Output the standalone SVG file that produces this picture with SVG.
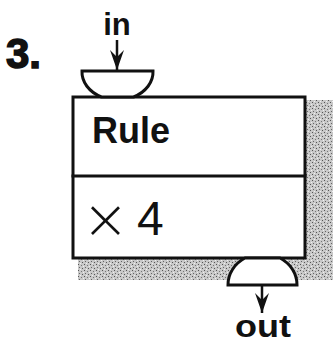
<svg xmlns="http://www.w3.org/2000/svg" width="335" height="343" viewBox="0 0 335 343">
<style>
.ln{fill:none;stroke:#111;stroke-width:3;stroke-linecap:square}
.bowl{fill:#fff;stroke:#111;stroke-width:3}
.lbl{font-family:"Liberation Sans",Arial,sans-serif;font-weight:bold;fill:#111}
.shadow{fill:url(#stip)}
</style>
<defs>
<pattern id="stip" width="6" height="6" patternUnits="userSpaceOnUse">
<rect width="6" height="6" fill="#c8c8c8"/>
<rect x="0" y="0" width="1" height="1" fill="#555"/>
<rect x="3" y="1" width="1" height="1" fill="#777"/>
<rect x="1" y="3" width="1" height="1" fill="#666"/>
<rect x="4" y="4" width="1" height="1" fill="#555"/>
<rect x="5" y="2" width="1" height="1" fill="#f0f0f0"/>
<rect x="2" y="5" width="1" height="1" fill="#f0f0f0"/>
</pattern>
<marker id="arr" viewBox="0 0 20 14" refX="20" refY="7" markerWidth="20" markerHeight="14" markerUnits="userSpaceOnUse" orient="auto">
<path d="M0,0 L20,7 L0,14 L7,7 Z" fill="#111"/>
</marker>
</defs>
<text class="lbl" x="6" y="68" font-size="42" stroke="#111" stroke-width="1.5">3.</text>
<g id="shadow">
<path class="shadow" d="M306,100 H333 V280 H297 L286,258 H246 L232,280 H78 V259 H306 Z"/>
</g>
<g id="rule">
<rect x="73" y="97" width="232" height="161" fill="#fff"/>
<path class="ln" d="M73,97 H305 V258 H73 Z"/>
<line class="ln" x1="73" y1="176" x2="305" y2="176"/>
<text class="lbl" x="92" y="143" font-size="36">Rule</text>
<text x="82" y="235" font-family="'Liberation Sans',Arial,sans-serif" font-size="48" fill="#111"><tspan font-family="'DejaVu Sans',sans-serif" font-weight="200" font-size="56" dy="3">×</tspan><tspan dx="8" dy="-3">4</tspan></text>
</g>
<g id="in-port">
<path class="bowl" d="M82,71 H153 A35.5,28 0 0 1 133.5,97 H101.5 A35.5,28 0 0 1 82,71 Z"/>
</g>
<g id="out-port">
<path class="bowl" d="M228,285 H297 A34.5,31 0 0 0 280,258 H245 A34.5,31 0 0 0 228,285 Z"/>
</g>
<g id="connectors">
<line x1="117" y1="40" x2="117" y2="70" stroke="#111" stroke-width="2.5" marker-end="url(#arr)"/>
<line x1="262" y1="286" x2="262" y2="313" stroke="#111" stroke-width="2.5" marker-end="url(#arr)"/>
</g>
<text class="lbl" x="117" y="35" font-size="31" text-anchor="middle">in</text>
<text class="lbl" x="235" y="337" font-size="31" textLength="56" lengthAdjust="spacingAndGlyphs">out</text>
</svg>
